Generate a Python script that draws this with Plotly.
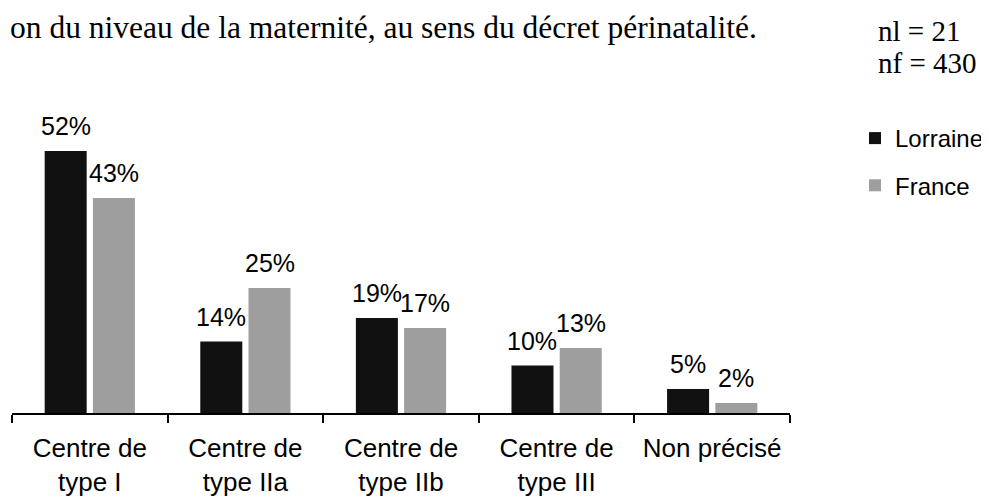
import plotly.graph_objects as go

categories = ["Centre de<br>type I", "Centre de<br>type IIa", "Centre de<br>type IIb",
              "Centre de<br>type III", "Non précisé"]
lorraine = [52.4, 14.3, 19.0, 9.5, 4.8]
france = [43, 25, 17, 13, 2]
series_names = ["Lorraine", "France"]
title_text = "on du niveau de la maternité, au sens du décret périnatalité."
counts_text = ["nl = 21", "nf = 430"]

# page body has an 8px margin: figure is sized/positioned to compensate
OFF = 8
W, H = 989 - OFF, 499 - OFF
ML, MR, MT, MB = 12 - OFF, 199, 138 - OFF, 86
PW = W - ML - MR
PH = H - MT - MB

def px_x(p):  # p in window pixels
    return (p - OFF - ML) / PW

def px_y(p):
    return (H - MB - (p - OFF)) / PH

xs = list(range(len(categories)))
sans = "Liberation Sans, Arial, sans-serif"
serif = "Liberation Serif, Times New Roman, serif"

fig = go.Figure()
fig.add_trace(go.Bar(x=xs, y=lorraine, name=series_names[0], width=0.27, offset=-0.29,
                     marker=dict(color="#111111", line=dict(width=0)), legendgroup="a"))
fig.add_trace(go.Bar(x=xs, y=france, name=series_names[1], width=0.27, offset=0.02,
                     marker=dict(color="#9e9e9e", line=dict(width=0)), legendgroup="b"))

annotations = []
for i, v in enumerate(lorraine):
    annotations.append(dict(x=i - 0.155, y=v, xref="x", yref="y", text=f"{round(v)}%",
                            showarrow=False, yshift=25, yanchor="middle",
                            font=dict(family=sans, size=25, color="black")))
for i, v in enumerate(france):
    annotations.append(dict(x=i + 0.155, y=v, xref="x", yref="y", text=f"{round(v)}%",
                            showarrow=False, yshift=25, yanchor="middle",
                            font=dict(family=sans, size=25, color="black")))

annotations.append(dict(x=px_x(8), y=px_y(27), xref="paper", yref="paper", text=title_text,
                        showarrow=False, xanchor="left", yanchor="middle",
                        font=dict(family=serif, size=31.5, color="black")))
annotations.append(dict(x=px_x(876), y=px_y(31), xref="paper", yref="paper", text=counts_text[0],
                        showarrow=False, xanchor="left", yanchor="middle",
                        font=dict(family=serif, size=29, color="black")))
annotations.append(dict(x=px_x(876), y=px_y(63), xref="paper", yref="paper", text=counts_text[1],
                        showarrow=False, xanchor="left", yanchor="middle",
                        font=dict(family=serif, size=29, color="black")))

fig.update_layout(
    width=W, height=H,
    margin=dict(l=ML, r=MR, t=MT, b=MB, autoexpand=False),
    paper_bgcolor="white", plot_bgcolor="white",
    barmode="group",
    showlegend=True,
    legend=dict(x=px_x(855), y=px_y(116), xanchor="left", yanchor="top",
                font=dict(family=sans, size=24, color="black"),
                tracegroupgap=13, traceorder="grouped", bgcolor="rgba(0,0,0,0)",
                itemwidth=30),
    annotations=annotations,
    xaxis=dict(range=[-0.5, 4.5], tickvals=xs, ticktext=categories, ticks="",
               showline=True, linecolor="black", linewidth=1.5, showgrid=False,
               zeroline=False, ticklabelstandoff=11, automargin=False,
               tickfont=dict(family=sans, size=26, color="black"),
               minor=dict(tickvals=[-0.5, 0.5, 1.5, 2.5, 3.5, 4.5], ticks="outside",
                          ticklen=8, tickcolor="black", tickwidth=1.5, showgrid=False)),
    yaxis=dict(range=[0, 55], visible=False, showgrid=False, zeroline=False, automargin=False),
)

fig.write_html("out.html")
